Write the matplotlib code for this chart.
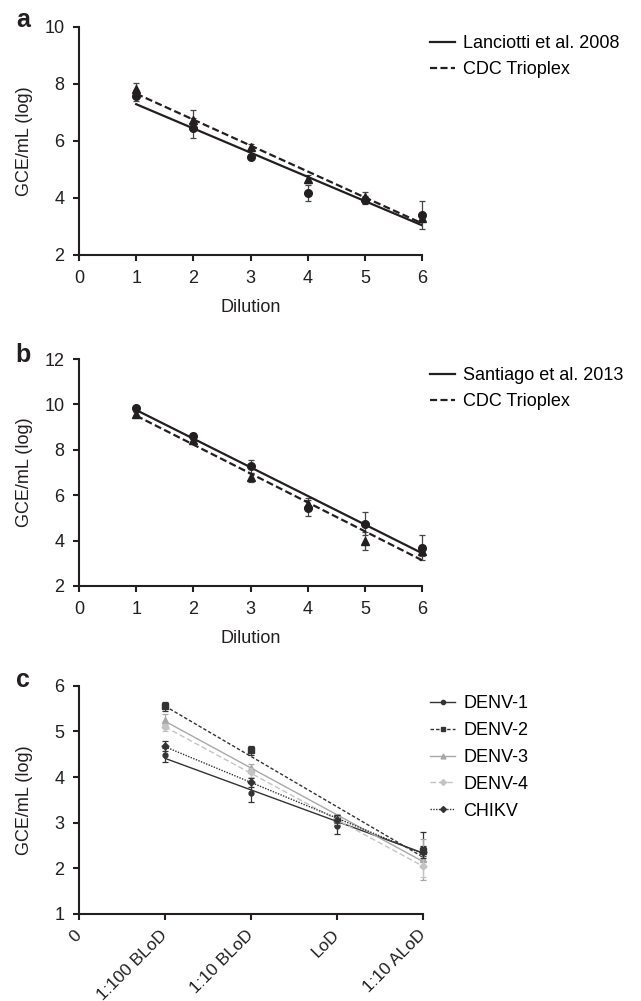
import numpy as np
import matplotlib.pyplot as plt
from matplotlib.lines import Line2D

plt.rcParams['font.family'] = ['Liberation Sans', 'DejaVu Sans']
plt.rcParams['font.size'] = 13
ink = '#231f20'

# Panel a: Lanciotti et al. 2008 vs CDC Trioplex
dilution = [1, 2, 3, 4, 5, 6]
lanciotti = [7.58, 6.44, 5.45, 4.18, 3.93, 3.40]
lanciotti_err = [0.20, 0.35, 0.10, 0.28, 0.15, 0.50]
trioplex_a = [7.81, 6.73, 5.77, 4.66, 4.02, 3.30]
trioplex_a_err = [0.22, 0.35, 0.12, 0.15, 0.20, 0.10]

# Panel b: Santiago et al. 2013 vs CDC Trioplex
santiago = [9.83, 8.62, 7.27, 5.44, 4.75, 3.69]
santiago_err = [0.10, 0.10, 0.27, 0.35, 0.50, 0.55]
trioplex_b = [9.57, 8.41, 6.79, 5.62, 3.98, 3.55]
trioplex_b_err = [0.10, 0.10, 0.20, 0.25, 0.40, 0.25]

# Panel c: limit of detection series
levels = ['0', '1:100 BLoD', '1:10 BLoD', 'LoD', '1:10 ALoD']
level_x = [1, 2, 3, 4]
denv1 = [4.48, 3.66, 2.93, 2.42]
denv1_err = [0.15, 0.20, 0.18, 0.38]
denv2 = [5.55, 4.59, 3.08, 2.38]
denv2_err = [0.10, 0.10, 0.08, 0.10]
denv3 = [5.25, 4.19, 3.10, 2.20]
denv3_err = [0.12, 0.10, 0.08, 0.45]
denv4 = [5.09, 4.10, 3.05, 2.05]
denv4_err = [0.08, 0.10, 0.08, 0.25]
chikv = [4.68, 3.88, 3.05, 2.35]
chikv_err = [0.10, 0.10, 0.12, 0.12]


def trend(ax, x, y, **kw):
    slope, icpt = np.polyfit(x, y, 1)
    xs = np.array([min(x), max(x)])
    return ax.plot(xs, slope * xs + icpt, **kw)[0]


def style_axes(ax):
    for s in ['top', 'right']:
        ax.spines[s].set_visible(False)
    for s in ['left', 'bottom']:
        ax.spines[s].set_linewidth(1.5)
        ax.spines[s].set_color(ink)
    ax.tick_params(direction='out', length=4.5, width=1.5, color=ink,
                   labelcolor=ink, pad=6)
    ax.set_ylabel('GCE/mL (log)', color=ink)
    ax.yaxis.set_label_coords(-0.134, 0.5)


fig = plt.figure(figsize=(6.41, 10.01), dpi=100)
W, H = 641, 1001

def box(left, top, right, bottom):
    return [left / W, 1 - bottom / H, (right - left) / W, (bottom - top) / H]

ebar = dict(fmt='none', ecolor='#444444', elinewidth=0.9, capsize=2.5,
            capthick=0.9, clip_on=False)
leg = dict(loc='upper left', frameon=False, bbox_transform=fig.transFigure,
           borderpad=0, borderaxespad=0, handlelength=1.4,
           handletextpad=0.45)

panels = [
    ('a', box(79, 26.7, 422, 255), lanciotti, lanciotti_err, trioplex_a,
     trioplex_a_err, 'Lanciotti et al. 2008', (2, 10), 35, 26.7),
    ('b', box(79, 359, 422, 586), santiago, santiago_err, trioplex_b,
     trioplex_b_err, 'Santiago et al. 2013', (2, 12), 367, 361.7),
]
for tag, rect, ref, ref_err, tri, tri_err, name, ylim, legtop, tagy in panels:
    ax = fig.add_axes(rect)
    ax.errorbar(dilution, tri, yerr=tri_err, **ebar)
    ax.errorbar(dilution, ref, yerr=ref_err, **ebar)
    ax.plot(dilution, tri, '^', color=ink, ms=5.5, clip_on=False)
    ax.plot(dilution, ref, 'o', color=ink, ms=5.5, clip_on=False)
    l1 = trend(ax, dilution, ref, color=ink, lw=1.6, label=name)
    l2 = trend(ax, dilution, tri, color=ink, lw=1.6, ls=(0, (3.2, 1.5)),
               label='CDC Trioplex')
    ax.set_xlim(0, 6)
    ax.set_ylim(*ylim)
    ax.set_xticks(range(0, 7))
    ax.set_yticks(range(ylim[0], ylim[1] + 1, 2))
    style_axes(ax)
    ax.set_xlabel('Dilution', color=ink, labelpad=9)
    ax.legend(handles=[l1, l2], bbox_to_anchor=(430 / W, 1 - legtop / H),
              labelspacing=0.5, **leg)
    fig.text(23 / W, 1 - tagy / H, tag, fontsize=18, fontweight='bold',
             ha='center', va='baseline', color=ink)

# panel c
ax = fig.add_axes(box(79, 685.7, 423, 914))
series = [
    ('DENV-1', denv1, denv1_err, dict(color='#333333', ls='-', marker='o', ms=3.5)),
    ('DENV-2', denv2, denv2_err, dict(color='#333333', ls=(0, (2.5, 1.5)), marker='s', ms=4)),
    ('DENV-3', denv3, denv3_err, dict(color='#a8a8a8', ls='-', marker='^', ms=4)),
    ('DENV-4', denv4, denv4_err, dict(color='#c4c4c4', ls=(0, (4, 2)), marker='D', ms=3.5)),
    ('CHIKV', chikv, chikv_err, dict(color='#333333', ls=(0, (1, 1)), marker='D', ms=3.5)),
]
handles = []
for name, vals, err, st in series:
    ax.errorbar(level_x, vals, yerr=err, fmt='none', ecolor=st['color'],
                elinewidth=0.9, capsize=2, capthick=0.9, clip_on=False)
    ax.plot(level_x, vals, ls='none', marker=st['marker'], ms=st['ms'],
            color=st['color'], clip_on=False)
    trend(ax, level_x, vals, color=st['color'], ls=st['ls'], lw=1.0)
    handles.append(Line2D([], [], color=st['color'], ls=st['ls'], lw=1.0,
                          marker=st['marker'], ms=st['ms'] - 0.5, label=name))
ax.set_xlim(0, 4)
ax.set_ylim(1, 6)
ax.set_xticks(range(5))
ax.set_xticklabels(levels, rotation=45, ha='right', va='center',
                   rotation_mode='anchor', fontsize=12.5)
ax.set_yticks(range(1, 7))
style_axes(ax)
ax.tick_params(axis='x', pad=9)
ax.legend(handles=handles, bbox_to_anchor=(430 / W, 1 - 695 / H),
          labelspacing=0.55, **leg)
fig.text(23 / W, 1 - 686.7 / H, 'c', fontsize=18, fontweight='bold',
         ha='center', va='baseline', color=ink)

fig.savefig('out.png', dpi=100, facecolor='white')
